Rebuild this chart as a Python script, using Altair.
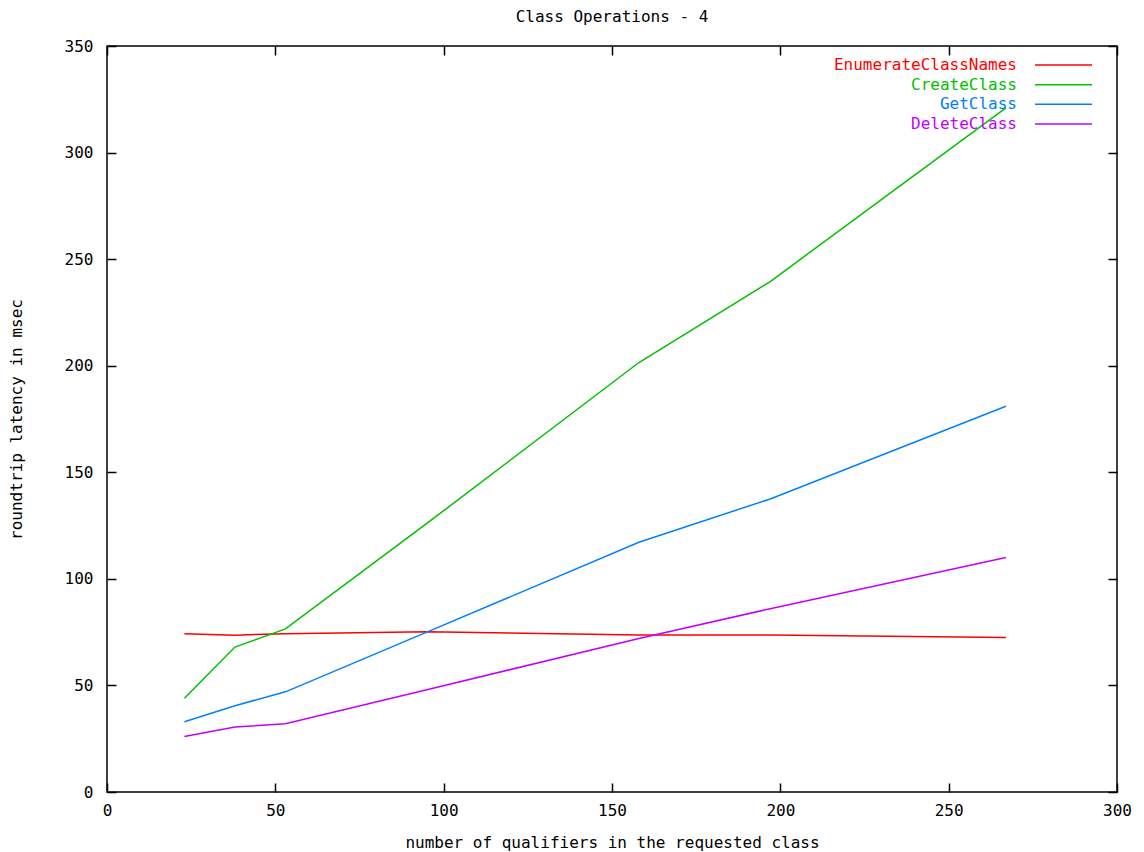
import altair as alt
import pandas as pd

series_names = ["EnumerateClassNames", "CreateClass", "GetClass", "DeleteClass"]
series_colors = ["#ff0000", "#00c000", "#0080ff", "#c000ff"]

x_values = [23, 38, 53, 95, 158, 197, 267]
enumerate_vals = [74.2, 73.6, 74.3, 75.2, 73.7, 73.7, 72.5]
create_vals = [44, 68, 76.5, 126, 201.5, 239.5, 321]
get_vals = [33, 40.5, 47, 75, 117.2, 137.5, 181]
delete_vals = [26, 30.5, 32, 48, 72, 86, 110]

x_ticks = [0, 50, 100, 150, 200, 250, 300]
y_ticks = [0, 50, 100, 150, 200, 250, 300, 350]

rows = []
for name, vals in zip(series_names, [enumerate_vals, create_vals, get_vals, delete_vals]):
    for i, (xv, yv) in enumerate(zip(x_values, vals)):
        rows.append({"series": name, "x": xv, "y": yv, "order": i})
df = pd.DataFrame(rows)
legend_df = pd.DataFrame({"series": series_names})

FONT = "DejaVu Sans Mono"
FS = 16

color = alt.Color("series:N", scale=alt.Scale(domain=series_names, range=series_colors), legend=None)

xscale = alt.Scale(domain=[0, 300], nice=False, zero=False)
yscale = alt.Scale(domain=[0, 350], nice=False, zero=False)

common_axis = dict(labelFont=FONT, labelFontSize=FS, titleFont=FONT, titleFontSize=FS,
                   titleFontWeight="normal", labelColor="black", titleColor="black",
                   tickColor="black", tickWidth=1.5, offset=-9, tickSize=9, domain=False,
                   grid=False, labelFlush=False)

lines = alt.Chart(df).mark_line(strokeWidth=1.5, strokeJoin="miter").encode(
    x=alt.X("x:Q", scale=xscale,
            axis=alt.Axis(values=x_ticks, title="number of qualifiers in the requested class",
                          labelPadding=10, titlePadding=16, **common_axis)),
    y=alt.Y("y:Q", scale=yscale,
            axis=alt.Axis(values=y_ticks, title="roundtrip latency in msec",
                          labelPadding=14, titlePadding=40, **common_axis)),
    color=color,
    order="order:Q",
)

mirror = alt.Chart(df).mark_line(opacity=0).encode(
    x=alt.X("x:Q", scale=xscale,
            axis=alt.Axis(values=x_ticks, orient="top", title=None, labels=False, **common_axis)),
    y=alt.Y("y:Q", scale=yscale,
            axis=alt.Axis(values=y_ticks, orient="right", title=None, labels=False, **common_axis)),
    detail="series:N",
)

leg_y = alt.Y("series:N", sort=series_names,
              scale=alt.Scale(type="point", domain=series_names, range=[19, 78], padding=0),
              axis=None)

legend_text = alt.Chart(legend_df).mark_text(align="right", baseline="middle", font=FONT,
                                             fontSize=FS).encode(
    x=alt.value(910), y=leg_y, text="series:N", color=color)

legend_rule = alt.Chart(legend_df).mark_rule(strokeWidth=1.5).encode(
    x=alt.value(928), x2=alt.value(985), y=leg_y, color=color)

legend_layer = alt.layer(legend_text, legend_rule)

chart = alt.layer(lines, mirror, legend_layer).resolve_axis(
    x="independent", y="independent"
).resolve_scale(y="independent").properties(
    width=1010, height=746,
    title=alt.TitleParams("Class Operations - 4", font=FONT, fontSize=FS, fontWeight="normal",
                          anchor="middle", frame="group", offset=13, color="black"),
    autosize=alt.AutoSizeParams(type="none"),
    padding={"left": 107, "top": 46, "right": 27, "bottom": 60},
    background="white",
).configure_view(stroke="black", strokeWidth=1.5)

chart.save("out.html", embed_options={"renderer": "svg", "actions": False})
